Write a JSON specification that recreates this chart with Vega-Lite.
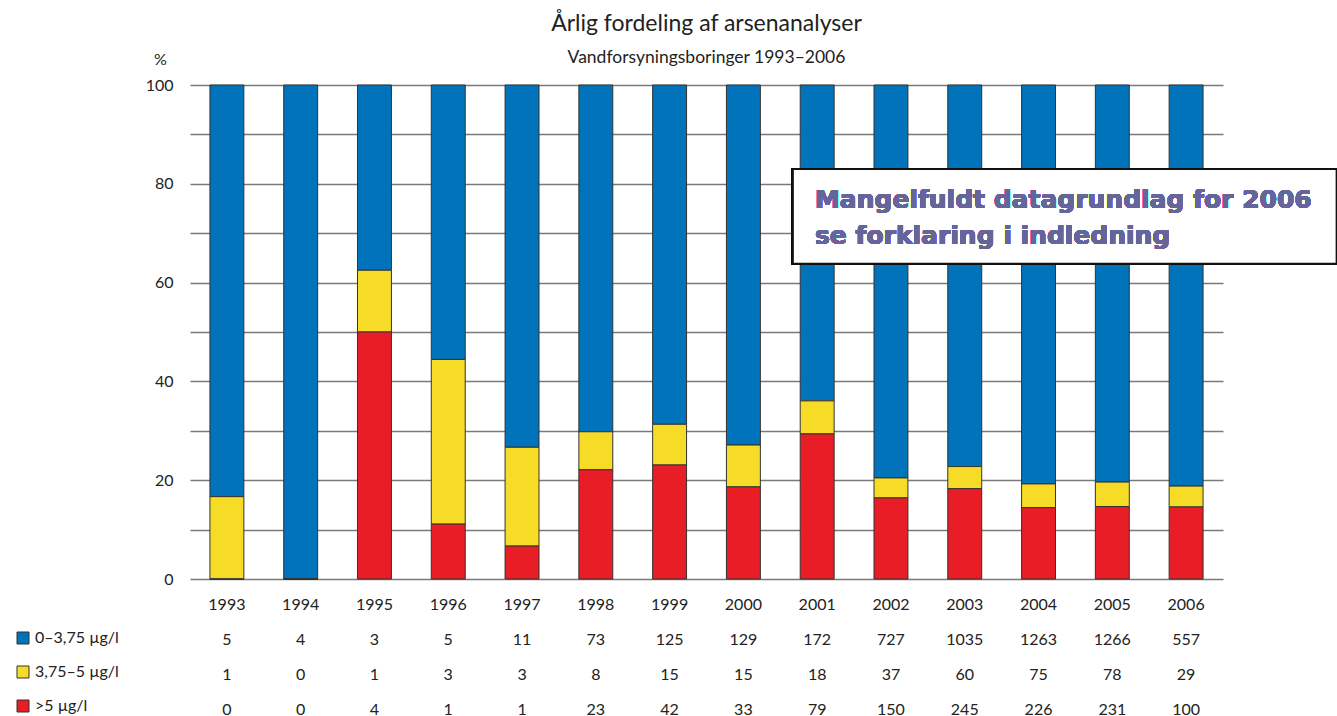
{
  "$schema": "https://vega.github.io/schema/vega-lite/v6.json",
  "padding": {"left": 15, "top": 12, "right": 0, "bottom": 0},
  "background": "white",
  "config": {"view": {"stroke": null}, "font": "Lato"},
  "data": {"values": [
    {"year": 1993, "cat": "0–3,75 µg/l", "n": 5},
    {"year": 1994, "cat": "0–3,75 µg/l", "n": 4},
    {"year": 1995, "cat": "0–3,75 µg/l", "n": 3},
    {"year": 1996, "cat": "0–3,75 µg/l", "n": 5},
    {"year": 1997, "cat": "0–3,75 µg/l", "n": 11},
    {"year": 1998, "cat": "0–3,75 µg/l", "n": 73},
    {"year": 1999, "cat": "0–3,75 µg/l", "n": 125},
    {"year": 2000, "cat": "0–3,75 µg/l", "n": 129},
    {"year": 2001, "cat": "0–3,75 µg/l", "n": 172},
    {"year": 2002, "cat": "0–3,75 µg/l", "n": 727},
    {"year": 2003, "cat": "0–3,75 µg/l", "n": 1035},
    {"year": 2004, "cat": "0–3,75 µg/l", "n": 1263},
    {"year": 2005, "cat": "0–3,75 µg/l", "n": 1266},
    {"year": 2006, "cat": "0–3,75 µg/l", "n": 557},
    {"year": 1993, "cat": "3,75–5 µg/l", "n": 1},
    {"year": 1994, "cat": "3,75–5 µg/l", "n": 0},
    {"year": 1995, "cat": "3,75–5 µg/l", "n": 1},
    {"year": 1996, "cat": "3,75–5 µg/l", "n": 3},
    {"year": 1997, "cat": "3,75–5 µg/l", "n": 3},
    {"year": 1998, "cat": "3,75–5 µg/l", "n": 8},
    {"year": 1999, "cat": "3,75–5 µg/l", "n": 15},
    {"year": 2000, "cat": "3,75–5 µg/l", "n": 15},
    {"year": 2001, "cat": "3,75–5 µg/l", "n": 18},
    {"year": 2002, "cat": "3,75–5 µg/l", "n": 37},
    {"year": 2003, "cat": "3,75–5 µg/l", "n": 60},
    {"year": 2004, "cat": "3,75–5 µg/l", "n": 75},
    {"year": 2005, "cat": "3,75–5 µg/l", "n": 78},
    {"year": 2006, "cat": "3,75–5 µg/l", "n": 29},
    {"year": 1993, "cat": ">5 µg/l", "n": 0},
    {"year": 1994, "cat": ">5 µg/l", "n": 0},
    {"year": 1995, "cat": ">5 µg/l", "n": 4},
    {"year": 1996, "cat": ">5 µg/l", "n": 1},
    {"year": 1997, "cat": ">5 µg/l", "n": 1},
    {"year": 1998, "cat": ">5 µg/l", "n": 23},
    {"year": 1999, "cat": ">5 µg/l", "n": 42},
    {"year": 2000, "cat": ">5 µg/l", "n": 33},
    {"year": 2001, "cat": ">5 µg/l", "n": 79},
    {"year": 2002, "cat": ">5 µg/l", "n": 150},
    {"year": 2003, "cat": ">5 µg/l", "n": 245},
    {"year": 2004, "cat": ">5 µg/l", "n": 226},
    {"year": 2005, "cat": ">5 µg/l", "n": 231},
    {"year": 2006, "cat": ">5 µg/l", "n": 100}
  ]},
  "spacing": 10,
  "vconcat": [
    {
      "width": 1033,
      "height": 494,
      "title": {
        "text": "Årlig fordeling af arsenanalyser",
        "subtitle": "Vandforsyningsboringer 1993–2006",
        "frame": "group",
        "anchor": "middle",
        "font": "Lato",
        "subtitleFont": "Lato",
        "fontSize": 23,
        "subtitleFontSize": 17.5,
        "fontWeight": "normal",
        "color": "#222",
        "subtitleColor": "#222",
        "subtitlePadding": 13,
        "offset": -15
      },
      "layer": [
        {
          "mark": {"type": "bar", "stroke": "#333", "strokeWidth": 1},
          "encoding": {
            "x": {
              "field": "year",
              "type": "ordinal",
              "scale": {"paddingInner": 0.54, "paddingOuter": 0.27},
              "axis": {
                "title": null,
                "labelAngle": 0,
                "domain": false,
                "ticks": false,
                "grid": false,
                "labelPadding": 17,
                "labelFontSize": 16,
                "labelFont": "Lato",
                "labelColor": "#222"
              }
            },
            "y": {
              "field": "n",
              "type": "quantitative",
              "stack": "normalize",
              "scale": {"domain": [0, 1]},
              "axis": {
                "values": [0, 0.1, 0.2, 0.3, 0.4, 0.5, 0.6, 0.7, 0.8, 0.9, 1],
                "labelExpr": "round(datum.value*10) % 2 === 0 ? format(round(datum.value*100), 'd') : ''",
                "title": "%",
                "titleAngle": 0,
                "titleX": -30,
                "titleY": -21,
                "titleAlign": "center",
                "titleBaseline": "alphabetic",
                "titleFontWeight": "normal",
                "titleFontSize": 16,
                "titleFont": "Lato",
                "titleColor": "#222",
                "domain": false,
                "ticks": false,
                "labelPadding": 17,
                "labelFontSize": 16,
                "labelFont": "Lato",
                "labelColor": "#222",
                "gridColor": "#7a7a7a",
                "gridWidth": 1.5
              }
            },
            "color": {
              "field": "cat",
              "type": "nominal",
              "scale": {
                "domain": ["0–3,75 µg/l", "3,75–5 µg/l", ">5 µg/l"],
                "range": ["#0073BA", "#F6DC27", "#E81D25"]
              },
              "legend": {
                "title": null,
                "orient": "none",
                "legendX": -175,
                "legendY": 545,
                "symbolType": "square",
                "symbolSize": 144,
                "symbolStrokeColor": "#333",
                "symbolStrokeWidth": 1,
                "symbolOpacity": 1,
                "labelFontSize": 16,
                "labelFont": "Lato",
                "labelColor": "#222",
                "labelOffset": 4,
                "rowPadding": 18
              }
            },
            "order": {"field": "cat", "sort": "descending"}
          }
        },
        {
          "layer": [
            {
              "mark": {"type": "rect", "fill": "white", "stroke": "#111", "strokeWidth": 2},
              "encoding": {
                "x": {"datum": 2000.67, "type": "quantitative", "scale": {"domain": [1992.5, 2006.5], "nice": false, "zero": false}, "axis": null},
                "x2": {"datum": 2008.04},
                "y": {"datum": 0.83, "type": "quantitative"},
                "y2": {"datum": 0.638}
              }
            },
            {
              "mark": {
                "type": "text",
                "text": ["Mangelfuldt datagrundlag for 2006", "se forklaring i indledning"],
                "font": "DejaVu Sans",
                "fontWeight": "bold",
                "fontSize": 25,
                "color": "#65659B",
                "align": "left",
                "baseline": "alphabetic",
                "lineHeight": 36
              },
              "encoding": {
                "x": {"datum": 2000.97, "type": "quantitative", "scale": {"domain": [1992.5, 2006.5], "nice": false, "zero": false}, "axis": null},
                "y": {"datum": 0.751, "type": "quantitative"}
              }
            }
          ]
        }
      ],
      "resolve": {"scale": {"x": "independent"}}
    },
    {
      "width": 1033,
      "height": 105,
      "mark": {"type": "text", "fontSize": 16, "font": "Lato", "color": "#222"},
      "encoding": {
        "x": {"field": "year", "type": "ordinal", "scale": {"paddingInner": 0.54, "paddingOuter": 0.27}, "axis": null},
        "y": {"field": "cat", "type": "nominal", "sort": ["0–3,75 µg/l", "3,75–5 µg/l", ">5 µg/l"], "axis": null},
        "text": {"field": "n", "type": "quantitative"}
      }
    }
  ]
}
